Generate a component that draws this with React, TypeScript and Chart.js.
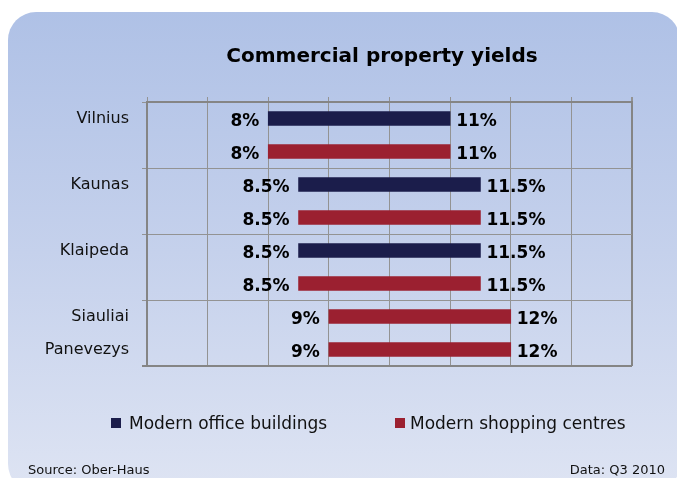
import React, { useEffect, useRef } from "react";
import { Chart, registerables } from "chart.js";

Chart.register(...registerables);

// ---- data ----
const cities = ["Vilnius", "Kaunas", "Klaipeda", "Siauliai", "Panevezys"];
const officeFrom: (number | null)[] = [8, 8.5, 8.5, null, null];
const officeTo: (number | null)[] = [11, 11.5, 11.5, null, null];
const shopFrom: number[] = [8, 8.5, 8.5, 9, 9];
const shopTo: number[] = [11, 11.5, 11.5, 12, 12];
const seriesNames = ["Modern office buildings", "Modern shopping centres"];
const xMin = 6;
const xMax = 14;
const xStep = 1;

const titleText = "Commercial property yields";
const sourceText = "Source: Ober-Haus";
const dateText = "Data: Q3 2010";

const OFFICE_COLOR = "#1b1d4b";
const SHOP_COLOR = "#9b2030";
const GRID = "#939393";
const AXIS = "#858585";
const FONT = "DejaVu Sans";

type Row = { label: string; office: number[] | null; shop: number[] | null };

function buildRows(): Row[] {
  const rows: Row[] = [];
  cities.forEach((c, i) => {
    const of = officeFrom[i];
    const ot = officeTo[i];
    if (of != null && ot != null) {
      rows.push({ label: c, office: [of, ot], shop: null });
      rows.push({ label: "", office: null, shop: [shopFrom[i], shopTo[i]] });
    } else {
      rows.push({ label: c, office: null, shop: [shopFrom[i], shopTo[i]] });
    }
  });
  return rows;
}

const valueLabels = {
  id: "valueLabels",
  afterDatasetsDraw(chart: any) {
    const ctx = chart.ctx;
    const xs = chart.scales.x;
    ctx.save();
    ctx.font = `bold 17px "${FONT}"`;
    ctx.fillStyle = "#000";
    ctx.textBaseline = "alphabetic";
    chart.data.datasets.forEach((ds: any, di: number) => {
      const meta = chart.getDatasetMeta(di);
      meta.data.forEach((el: any, j: number) => {
        const v = ds.data[j];
        if (!v) return;
        const y = el.y + 7.5;
        ctx.textAlign = "right";
        ctx.fillText(`${v[0]}%`, xs.getPixelForValue(v[0]) - 9, y);
        ctx.textAlign = "left";
        ctx.fillText(`${v[1]}%`, xs.getPixelForValue(v[1]) + 6, y);
      });
    });
    ctx.restore();
  },
};

export default function App() {
  const ref = useRef<HTMLCanvasElement>(null);

  useEffect(() => {
    const rows = buildRows();
    Chart.defaults.font.family = FONT;
    const yLine = (ctx: any) =>
      ctx.index === undefined ? AXIS : ctx.index % 2 === 0 ? GRID : "rgba(0,0,0,0)";
    const chart = new Chart(ref.current as HTMLCanvasElement, {
      type: "bar",
      data: {
        labels: rows.map((r) => r.label),
        datasets: [
          {
            label: seriesNames[0],
            data: rows.map((r) => r.office) as any,
            backgroundColor: OFFICE_COLOR,
            barThickness: 14,
            grouped: false,
          } as any,
          {
            label: seriesNames[1],
            data: rows.map((r) => r.shop) as any,
            backgroundColor: SHOP_COLOR,
            barThickness: 14,
            grouped: false,
          } as any,
        ],
      },
      options: {
        indexAxis: "y",
        animation: false,
        responsive: true,
        maintainAspectRatio: false,
        layout: { padding: { left: 0, top: 97, right: 45, bottom: 112 } },
        plugins: {
          legend: { display: false },
          title: { display: false },
          tooltip: { enabled: false },
        },
        scales: {
          x: {
            position: "top",
            min: xMin,
            max: xMax,
            ticks: { display: false, stepSize: xStep },
            grid: {
              color: (ctx: any) => (ctx.tick && ctx.tick.value === xMax ? AXIS : GRID),
              lineWidth: (ctx: any) => (ctx.tick && ctx.tick.value === xMax ? 2 : 1),
              drawTicks: true,
              tickLength: 5,
              tickColor: GRID,
            },
            border: { display: true, color: AXIS, width: 2 },
            afterFit: (s: any) => {
              s.height = 5;
            },
          },
          y: {
            ticks: {
              autoSkip: false,
              padding: 13,
              color: "#111",
              font: { family: FONT, size: 16 },
            },
            grid: {
              offset: true,
              color: yLine,
              tickColor: yLine,
              lineWidth: (ctx: any) => (ctx.index === undefined ? 2 : 1),
              drawTicks: true,
              tickLength: 5,
            },
            border: { display: true, color: AXIS, width: 2 },
            afterFit: (s: any) => {
              s.width = 147;
            },
          },
        },
      } as any,
      plugins: [valueLabels],
    });
    return () => chart.destroy();
  }, []);

  const legendItems = [
    { name: seriesNames[0], color: OFFICE_COLOR, box: 111, text: 129 },
    { name: seriesNames[1], color: SHOP_COLOR, box: 395, text: 410 },
  ];

  return (
    <div
      style={{
        position: "fixed",
        left: 0,
        top: 0,
        width: 677,
        height: 478,
        overflow: "hidden",
        background: "#fff",
        fontFamily: FONT,
      }}
    >
      <div
        style={{
          position: "absolute",
          left: 8,
          top: 12,
          width: 672,
          height: 480,
          borderRadius: 28,
          background: "linear-gradient(180deg, #afc1e6 0%, #c5d1ec 50%, #dee4f3 100%)",
        }}
      />
      <div style={{ position: "absolute", left: 0, top: 0, width: 677, height: 478 }}>
        <canvas ref={ref} />
      </div>
      <div
        style={{
          position: "absolute",
          left: 182,
          top: 45,
          width: 400,
          textAlign: "center",
          fontWeight: "bold",
          fontSize: 20,
          lineHeight: "20px",
          color: "#000",
          whiteSpace: "nowrap",
        }}
      >
        {titleText}
      </div>
      {legendItems.map((it) => (
        <React.Fragment key={it.name}>
          <div
            style={{
              position: "absolute",
              left: it.box,
              top: 418,
              width: 10,
              height: 10,
              background: it.color,
            }}
          />
          <div
            style={{
              position: "absolute",
              left: it.text,
              top: 415,
              fontSize: 17,
              lineHeight: "17px",
              color: "#111",
              whiteSpace: "nowrap",
            }}
          >
            {it.name}
          </div>
        </React.Fragment>
      ))}
      <div
        style={{
          position: "absolute",
          left: 28,
          top: 463,
          fontSize: 13,
          lineHeight: "13px",
          color: "#111",
          whiteSpace: "nowrap",
        }}
      >
        {sourceText}
      </div>
      <div
        style={{
          position: "absolute",
          right: 12,
          top: 463,
          fontSize: 13,
          lineHeight: "13px",
          color: "#111",
          whiteSpace: "nowrap",
        }}
      >
        {dateText}
      </div>
    </div>
  );
}
